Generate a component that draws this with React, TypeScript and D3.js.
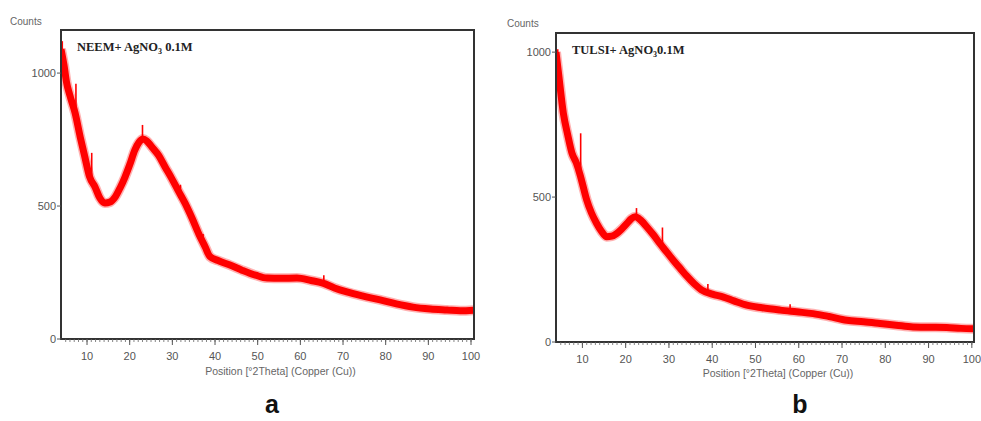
import React from 'react';
import { scaleLinear, line, curveMonotoneX, range } from 'd3';

// panel a: NEEM + AgNO3 0.1M
const thetaA = [3.9, 4.6, 5.2, 6.0, 7.2, 8.4, 9.5, 10.6, 11.9, 13.0, 14.2, 15.4, 16.6, 17.8, 18.9, 20.0, 21.2, 22.2, 23.1, 24.0, 25.2, 26.8, 28.3, 29.8, 31.3, 33.0, 34.6, 36.2, 37.7, 38.8, 40.7, 43.5, 46.3, 49.5, 52.2, 55.5, 59.2, 62.5, 65.3, 68.0, 70.9, 74.5, 78.7, 82.5, 86.4, 90.5, 94.4, 97.5, 100.7];
const countsA = [1090, 1030, 965, 915, 850, 760, 684, 610, 571, 530, 511, 515, 534, 570, 609, 655, 710, 740, 752, 745, 722, 690, 647, 605, 560, 510, 455, 395, 346, 310, 295, 278, 259, 240, 229, 228, 229, 220, 210, 192, 177, 162, 147, 132, 120, 113, 109, 106, 108];
// thin noise spikes standing out of the band
const spikeThetaA = [4.2, 7.4, 11.1, 23.0, 31.9, 37.2, 65.5];
const spikeBaseA = [1060, 840, 590, 752, 540, 360, 205];
const spikeTopA = [1120, 960, 700, 805, 580, 395, 240];

// panel b: TULSI + AgNO3 0.1M
const thetaB = [3.9, 4.5, 5.6, 6.6, 7.6, 8.6, 9.5, 10.2, 11.0, 12.1, 13.3, 14.5, 15.6, 16.8, 17.9, 19.1, 20.3, 21.3, 22.2, 23.5, 24.9, 26.4, 27.9, 29.5, 31.0, 32.6, 34.1, 35.9, 37.5, 40.0, 42.6, 45.0, 48.0, 51.5, 55.7, 59.5, 63.3, 67.0, 71.1, 75.0, 78.8, 82.5, 86.4, 90.5, 94.2, 97.5, 100.5];
const countsB = [1000, 925, 789, 715, 651, 618, 575, 535, 490, 445, 409, 380, 363, 365, 374, 390, 409, 425, 432, 420, 397, 370, 340, 310, 282, 254, 228, 200, 180, 165, 155, 142, 127, 118, 110, 104, 98, 88, 75, 70, 64, 58, 52, 51, 50, 47, 46];
const spikeThetaB = [4.3, 9.6, 22.5, 28.5, 39.0, 58.0];
const spikeBaseB = [950, 570, 432, 330, 170, 106];
const spikeTopB = [1010, 720, 462, 395, 200, 130];

const yTicks = [0, 500, 1000];
const xTicks = [10, 20, 30, 40, 50, 60, 70, 80, 90, 100];
const minorTicks = range(5, 101, 1);

const panels = [
  { id: 'a', title: 'NEEM+ AgNO', titleEnd: ' 0.1M', xs: thetaA, ys: countsA,
    sx: spikeThetaA, sBase: spikeBaseA, sTop: spikeTopA,
    left: 61, top: 30, right: 474, bottom: 339, xMin: 3.9, xMax: 100.7, yMax: 1162,
    countsX: 10, countsY: 25, letterX: 272, labelY: 375 },
  { id: 'b', title: 'TULSI+ AgNO', titleEnd: '0.1M', xs: thetaB, ys: countsB,
    sx: spikeThetaB, sBase: spikeBaseB, sTop: spikeTopB,
    left: 556, top: 33, right: 974, bottom: 342, xMin: 3.9, xMax: 100.5, yMax: 1066,
    countsX: 507, countsY: 27, letterX: 800, labelY: 377 },
];

const sans = 'Liberation Sans, Arial, sans-serif';

function Panel({ p }) {
  const x = scaleLinear().domain([p.xMin, p.xMax]).range([p.left, p.right]);
  const y = scaleLinear().domain([0, p.yMax]).range([p.bottom, p.top]);
  const pts = p.xs.map((v, i) => [v, p.ys[i]]);
  const path = line()
    .x(d => x(d[0]))
    .y(d => y(d[1]))
    .curve(curveMonotoneX)(pts);
  const clipId = 'clip-' + p.id;

  return (
    <g>
      <defs>
        <clipPath id={clipId}>
          <rect x={p.left} y={p.top} width={p.right - p.left} height={p.bottom - p.top} />
        </clipPath>
      </defs>
      <text x={p.countsX} y={p.countsY} fontFamily={sans} fontSize={10} fill="#666">Counts</text>

      <g clipPath={`url(#${clipId})`}>
        <path d={path} fill="none" stroke="#ff0000" strokeWidth={10} strokeLinejoin="round" opacity={0.3} />
        <path d={path} fill="none" stroke="#ff0000" strokeWidth={7} strokeLinejoin="round" />
        {p.sx.map((v, i) => (
          <line key={'s' + i} x1={x(v)} x2={x(v)} y1={y(p.sBase[i])} y2={y(p.sTop[i])}
            stroke="#f00" strokeWidth={1.6} />
        ))}
      </g>

      <rect x={p.left} y={p.top} width={p.right - p.left} height={p.bottom - p.top}
        fill="none" stroke="#333" strokeWidth={2} />

      {yTicks.map(t => (
        <g key={'y' + t}>
          <line x1={p.left - 4} x2={p.left} y1={y(t)} y2={y(t)} stroke="#555" />
          <text x={p.left - 5} y={y(t)} dy="0.35em" textAnchor="end" fontFamily={sans} fontSize={11} fill="#555">{t}</text>
        </g>
      ))}
      {minorTicks.map(t => (
        <line key={'m' + t} x1={x(t)} x2={x(t)} y1={p.bottom} y2={p.bottom + 3} stroke="#666" strokeWidth={0.8} />
      ))}
      {xTicks.map(t => (
        <g key={'x' + t}>
          <line x1={x(t)} x2={x(t)} y1={p.bottom} y2={p.bottom + 6} stroke="#555" />
          <text x={x(t)} y={p.bottom + 21} textAnchor="middle" fontFamily={sans} fontSize={11} fill="#555">{t}</text>
        </g>
      ))}
      <text x={(p.left + p.right) / 2 + 13} y={p.labelY} textAnchor="middle" fontFamily={sans} fontSize={10.5} fill="#666">
        Position [°2Theta] (Copper (Cu))
      </text>

      <text x={p.left + 16} y={p.top + 21} fontFamily="Liberation Serif, Times New Roman, serif" fontWeight="bold" fontSize={12.5} fill="#222">
        {p.title}<tspan fontSize={8} dy={3}>3</tspan><tspan dy={-3}>{p.titleEnd}</tspan>
      </text>

      <text x={p.letterX} y={413} textAnchor="middle" fontFamily="Liberation Sans Narrow, Liberation Sans, Arial, sans-serif" fontWeight="bold" fontSize={25} fill="#111">{p.id}</text>
    </g>
  );
}

export default function App() {
  return (
    <svg width={981} height={421} style={{ position: 'absolute', left: 0, top: 0, background: '#fff' }}>
      <rect width={981} height={421} fill="#fff" />
      {panels.map(p => <Panel key={p.id} p={p} />)}
    </svg>
  );
}
